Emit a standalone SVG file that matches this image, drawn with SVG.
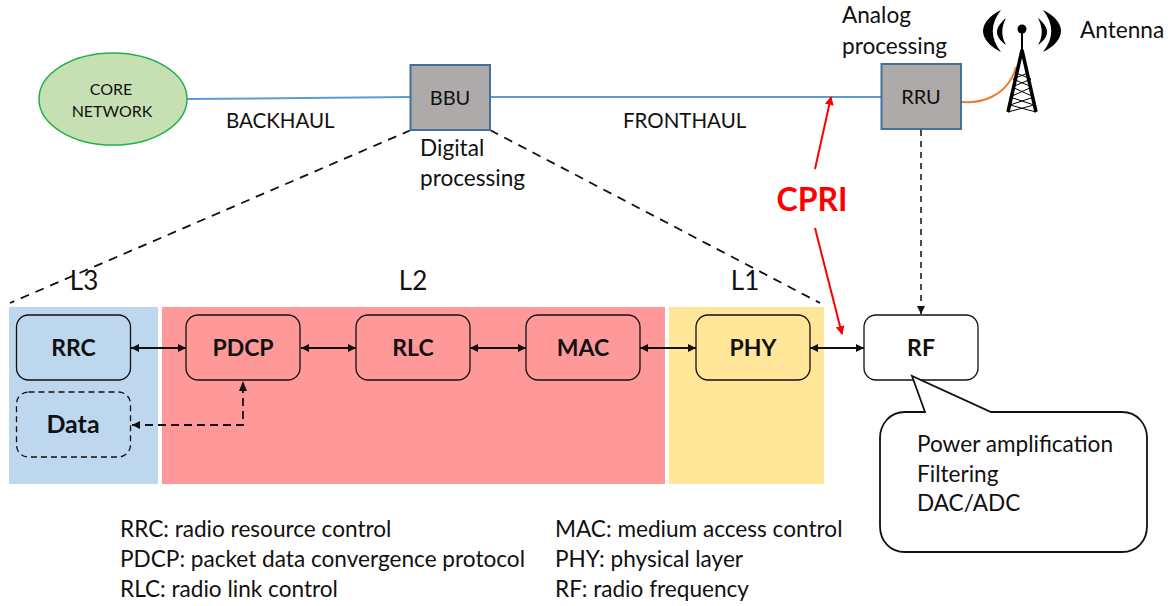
<svg xmlns="http://www.w3.org/2000/svg" width="1170" height="606" viewBox="0 0 1170 606">
<style>
text{font-family:Lato,"Liberation Sans",sans-serif;fill:#111}
.t{font-size:22.6px}
.u{font-size:20.5px}
.b{font-size:23px;font-weight:700;text-anchor:middle}
.m{font-size:20px;text-anchor:middle}
.l{font-size:26px;text-anchor:middle}
.n{stroke:#111;stroke-width:1.3}
.g{fill:#aeaaaa;stroke:#41719c;stroke-width:2}
.c{fill:none;stroke:#111;stroke-width:1.8;marker-start:url(#as);marker-end:url(#a)}
.blue{fill:none;stroke:#5b9bd5;stroke-width:2}
.dash{fill:none;stroke:#111;stroke-width:1.8;stroke-dasharray:9 7}
.red{fill:none;stroke:#f00;stroke-width:2;marker-end:url(#r)}
</style>
<defs>
<marker id="a" markerWidth="9" markerHeight="8" refX="8" refY="4" orient="auto" markerUnits="userSpaceOnUse"><path d="M0 0L8 4L0 8z" fill="#111"/></marker>
<marker id="as" markerWidth="9" markerHeight="8" refX="0" refY="4" orient="auto" markerUnits="userSpaceOnUse"><path d="M8 0L0 4L8 8z" fill="#111"/></marker>
<marker id="r" markerWidth="10" markerHeight="10" refX="8" refY="4.5" orient="auto" markerUnits="userSpaceOnUse"><path d="M0 0L9 4.5L0 9z" fill="#f00"/></marker>
</defs>
<g id="layers">
<rect x="9" y="307" width="149" height="177" fill="#bdd7ee"/>
<rect x="162" y="307" width="503" height="177" fill="#ff9999"/>
<rect x="669" y="307" width="155" height="177" fill="#ffe699"/>
<text class="l" x="84" y="290">L3</text>
<text class="l" x="413" y="290">L2</text>
<text class="l" x="745" y="290">L1</text>
</g>
<g id="connectors">
<path class="blue" d="M187 99L411 97M490 97L882 97"/>
<path class="dash" d="M411 130L10 303M490 130L820 303"/>
<path d="M921 130V315" fill="none" stroke="#111" stroke-width="1.5" stroke-dasharray="6 5"/>
<path d="M921 306V314" stroke="#111" stroke-width="1.5" marker-end="url(#a)"/>
<path class="c" d="M131 348H186"/>
<path class="c" d="M301 348H356"/>
<path class="c" d="M470 348H526"/>
<path class="c" d="M640 348H696"/>
<path class="c" d="M810 348H864"/>
<path class="dash" style="stroke-dasharray:8 5" d="M132 425H243V383"/>
<path d="M140 421L132 425L140 429zM239 391L243 381L247 391z" fill="#111"/>
<path class="red" d="M815 169L831 97"/>
<path class="red" d="M815 228L842 334"/>
<path d="M955 101C980 106 1008 96 1016 67" fill="none" stroke="#ed7d31" stroke-width="2"/>
</g>
<g id="core"><ellipse cx="113" cy="99" rx="74" ry="46" fill="#c6e0b4" stroke="#21b04b" stroke-width="1.5"/><text class="m" x="111" y="95" style="font-size:16px">CORE</text><text class="m" x="112" y="117" style="font-size:16px">NETWORK</text></g>
<g id="bbu"><rect class="g" x="410.500" y="65" width="79.500" height="65"/><text class="m" x="450" y="105">BBU</text></g>
<g id="rru"><rect class="g" x="881.500" y="64" width="79.500" height="65"/><text class="m" x="921" y="104">RRU</text></g>
<g id="antenna">
<path d="M1008 112L1022 50L1036 112" fill="none" stroke="#000" stroke-width="3.500"/>
<path d="M1022 32V52" stroke="#000" stroke-width="2"/>
<circle cx="1022" cy="29" r="4.500" fill="#000"/>
<path d="M1016 73L1031 79L1012 87L1034 97L1010 105L1036 112M1028 73L1013 79L1032 87L1010 97L1034 105L1008 112" fill="none" stroke="#000" stroke-width="1"/>
<path d="M1001 10C977 22 977 40 1001 52C990 38 990 24 1001 10zM1006 18C994 28 994 36 1006 45C1001 36 1001 28 1006 18zM1043 10C1067 22 1067 40 1043 52C1054 38 1054 24 1043 10zM1038 18C1050 28 1050 36 1038 45C1043 36 1043 28 1038 18z" fill="#000"/>
</g>
<g id="rrc"><rect class="n" x="16.500" y="315" width="114" height="65" rx="12" fill="#bdd7ee"/><text class="b" x="73.500" y="356">RRC</text></g>
<g id="data"><rect x="16.500" y="392" width="114" height="65" rx="12" fill="#bdd7ee" stroke="#111" stroke-width="1.300" stroke-dasharray="6 4"/><text class="b" x="73" y="433" style="font-size:25px">Data</text></g>
<g id="pdcp"><rect class="n" x="186" y="315" width="114" height="65" rx="12" fill="#ff9999"/><text class="b" x="243" y="356">PDCP</text></g>
<g id="rlc"><rect class="n" x="356" y="315" width="114" height="65" rx="12" fill="#ff9999"/><text class="b" x="413" y="356">RLC</text></g>
<g id="mac"><rect class="n" x="526" y="315" width="114" height="65" rx="12" fill="#ff9999"/><text class="b" x="583" y="356">MAC</text></g>
<g id="phy"><rect class="n" x="696" y="315" width="114" height="65" rx="12" fill="#ffe699"/><text class="b" x="753" y="356">PHY</text></g>
<g id="rf"><rect class="n" x="864" y="315" width="114" height="65" rx="12" fill="#fff"/><text class="b" x="921" y="356">RF</text></g>
<g id="callout"><path d="M912 376L925 412H905C890 412 880 424 880 438V526C880 541 890 552 905 552H1122C1137 552 1147 541 1147 526V438C1147 424 1137 412 1122 412H991z" fill="#fff" stroke="#111" stroke-width="1.800"/>
<text class="t" x="917" y="452">Power amplification</text><text class="t" x="917" y="482">Filtering</text><text class="t" x="917" y="511">DAC/ADC</text></g>
<g id="labels">
<text class="u" x="226" y="128">BACKHAUL</text>
<text class="u" x="623" y="128">FRONTHAUL</text>
<text class="t" x="420" y="156">Digital</text>
<text class="t" x="420" y="186">processing</text>
<text class="t" x="842" y="23">Analog</text>
<text class="t" x="842" y="54">processing</text>
<text class="t" x="1080" y="38">Antenna</text>
<text x="812" y="211" style="font-size:32px;font-weight:700;fill:#f00;text-anchor:middle">CPRI</text>
<text class="t" x="120" y="537">RRC: radio resource control</text>
<text class="t" x="120" y="567">PDCP: packet data convergence protocol</text>
<text class="t" x="120" y="597">RLC: radio link control</text>
<text class="t" x="555" y="537">MAC: medium access control</text>
<text class="t" x="555" y="567">PHY: physical layer</text>
<text class="t" x="555" y="597">RF: radio frequency</text>
</g>
</svg>
